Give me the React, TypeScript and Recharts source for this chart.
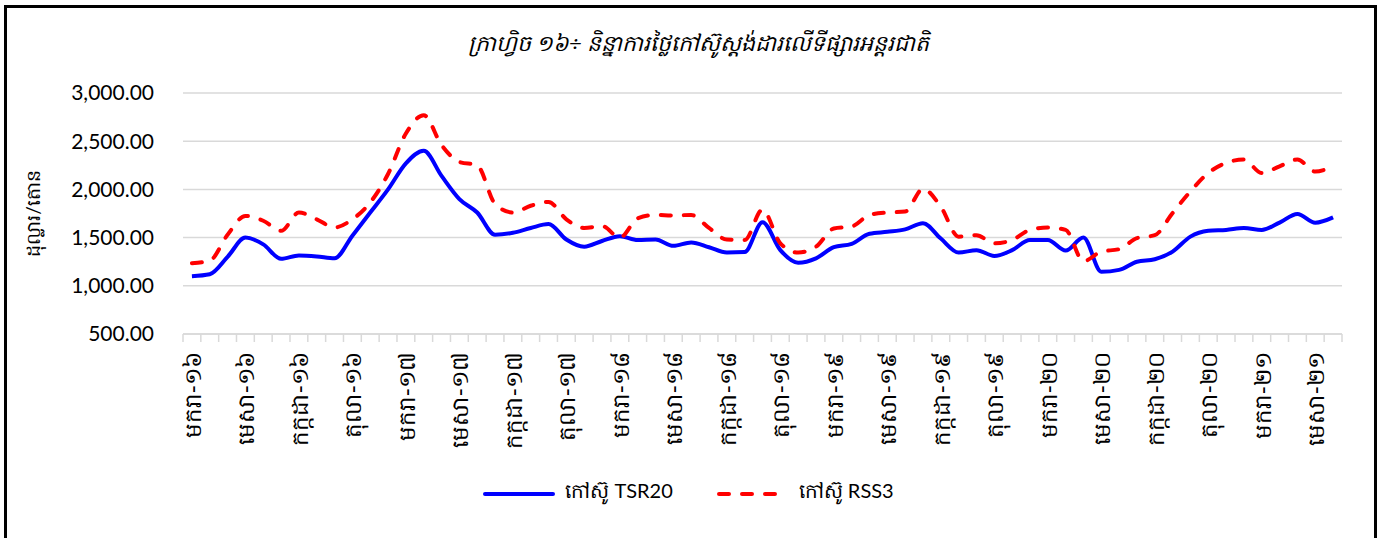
import { LineChart, Line, XAxis, YAxis, CartesianGrid, Legend, Label } from "recharts";

const MONTHS = ["មករា", "កុម្ភៈ", "មីនា", "មេសា", "ឧសភា", "មិថុនា", "កក្កដា", "សីហា", "កញ្ញា", "តុលា", "វិច្ឆិកា", "ធ្នូ"];
const YEARS = ["១៦", "១៧", "១៨", "១៩", "២០", "២១"];
const MONTH_COUNT = 65; // Jan-16 .. May-21

const TSR20 = [
  1100, 1120, 1300, 1500, 1430, 1280, 1315, 1305, 1285, 1520, 1760, 2000,
  2270, 2400, 2140, 1900, 1760, 1530, 1550, 1600, 1640, 1480, 1405, 1465,
  1515, 1475, 1480, 1415, 1450, 1400, 1345, 1350, 1660, 1370, 1240, 1285,
  1400, 1435, 1540, 1560, 1585, 1650, 1490, 1345, 1370, 1310, 1370, 1475,
  1475, 1365, 1500, 1145, 1165, 1250, 1275, 1355, 1510, 1570, 1580, 1600,
  1580, 1655, 1745, 1655, 1710,
];
const RSS3 = [
  1235, 1260, 1530, 1725, 1675, 1570, 1760, 1690, 1605, 1690, 1865, 2160,
  2580, 2770, 2460, 2285, 2250, 1850, 1760, 1830, 1870, 1690, 1600, 1620,
  1500, 1700, 1735, 1730, 1735, 1600, 1480, 1475, 1790, 1440, 1345, 1405,
  1595, 1615, 1735, 1760, 1770, 2005, 1820, 1510, 1525, 1440, 1475, 1580,
  1605, 1580, 1255, 1355, 1380, 1495, 1525, 1755, 1980, 2170, 2275, 2310,
  2170, 2240, 2310, 2185, 2240,
];
const Y_TICKS = [500, 1000, 1500, 2000, 2500, 3000];

const TITLE = "ក្រាហ្វិច ១៦÷ និន្នាការថ្លៃកៅស៊ូស្តង់ដារលើទីផ្សារអន្តរជាតិ";
const Y_LABEL = "ដុល្លារ/តោន";
const NAME_TSR = "កៅស៊ូ TSR20";
const NAME_RSS = "កៅស៊ូ RSS3";

const data = TSR20.slice(0, MONTH_COUNT).map((v, i) => ({
  month: MONTHS[i % 12] + "-" + YEARS[Math.floor(i / 12)],
  tsr: v,
  rss: RSS3[i],
}));

const W = 1377;
const H = 538;
const PLOT_L = 183;
const PLOT_R = 1342;
const PLOT_T = 93;
const PLOT_B = 334;
const BAND = (PLOT_R - PLOT_L) / data.length;
const FONT = "Lato, 'Noto Sans', 'DejaVu Sans', sans-serif";

const fmt = (v: number) =>
  v.toLocaleString("en-US", { minimumFractionDigits: 2, maximumFractionDigits: 2 });

function XTick(props: any) {
  const { x, y, payload, index } = props;
  const isLast = index === data.length - 1;
  return (
    <g>
      <line x1={x - BAND / 2} x2={x - BAND / 2} y1={y} y2={y + 8} stroke="#d9d9d9" strokeWidth={1.5} />
      {isLast && (
        <line x1={x + BAND / 2} x2={x + BAND / 2} y1={y} y2={y + 8} stroke="#d9d9d9" strokeWidth={1.5} />
      )}
      {index % 3 === 0 && (
        <text
          x={x}
          y={y + 18}
          transform={`rotate(-90, ${x}, ${y + 18})`}
          textAnchor="end"
          dominantBaseline="central"
          fontSize={23}
          fill="#000"
          fontFamily={FONT}
        >
          {payload.value}
        </text>
      )}
    </g>
  );
}

function LegendBox() {
  const items = [
    { name: NAME_TSR, color: "#0000ff", dash: undefined },
    { name: NAME_RSS, color: "#ff0000", dash: "10 13" },
  ];
  return (
    <div style={{ display: "flex", justifyContent: "center", gap: 44, fontFamily: FONT, fontSize: 20, color: "#000" }}>
      {items.map((it) => (
        <div key={it.name} style={{ display: "flex", alignItems: "center" }}>
          <svg width={72} height={10} style={{ marginRight: 10 }}>
            <line x1={2} x2={70} y1={6} y2={6} stroke={it.color} strokeWidth={4} strokeDasharray={it.dash} strokeLinecap="round" />
          </svg>
          <span>{it.name}</span>
        </div>
      ))}
    </div>
  );
}

export default function App() {
  return (
    <div style={{ position: "absolute", left: 0, top: 0, width: W, height: H, overflow: "hidden", background: "#fff" }}>
      <div
        style={{
          position: "absolute",
          left: 4,
          top: 5,
          width: 1373,
          height: 600,
          boxSizing: "border-box",
          border: "3px solid #000",
        }}
      />
      <div
        style={{
          position: "absolute",
          left: 10,
          top: 29,
          width: W,
          textAlign: "center",
          fontFamily: FONT,
          fontStyle: "italic",
          fontSize: 22,
          color: "#000",
        }}
      >
        {TITLE}
      </div>
      <div style={{ position: "absolute", left: 0, top: 0 }}>
        <LineChart
          width={W}
          height={H}
          data={data}
          margin={{ top: PLOT_T, right: W - PLOT_R, bottom: 54, left: 0 }}
        >
          <CartesianGrid vertical={false} stroke="#d9d9d9" strokeWidth={1.5} />
          <XAxis
            dataKey="month"
            interval={0}
            height={H - PLOT_B - 54}
            padding={{ left: BAND / 2, right: BAND / 2 }}
            tickLine={false}
            tickSize={0}
            tickMargin={0}
            axisLine={{ stroke: "#d9d9d9", strokeWidth: 1.5 }}
            tick={<XTick />}
          />
          <YAxis
            width={PLOT_L}
            domain={[500, 3000]}
            ticks={Y_TICKS}
            tickFormatter={fmt}
            axisLine={false}
            tickLine={false}
            tickSize={0}
            tickMargin={29}
            tick={{ fontSize: 21, fill: "#000", fontFamily: FONT }}
          >
            <Label
              content={() => (
                <text
                  x={32}
                  y={(PLOT_T + PLOT_B) / 2}
                  transform={`rotate(-90, 32, ${(PLOT_T + PLOT_B) / 2})`}
                  textAnchor="middle"
                  dominantBaseline="central"
                  fontSize={19}
                  fontFamily={FONT}
                  fill="#000"
                >
                  {Y_LABEL}
                </text>
              )}
            />
          </YAxis>
          <Legend
            verticalAlign="middle"
            content={<LegendBox />}
            wrapperStyle={{ position: "absolute", top: 478, left: 0, width: W }}
          />
          <Line
            type="monotone"
            dataKey="tsr"
            name={NAME_TSR}
            stroke="#0000ff"
            strokeWidth={4}
            dot={false}
            activeDot={false}
            isAnimationActive={false}
          />
          <Line
            type="monotone"
            dataKey="rss"
            name={NAME_RSS}
            stroke="#ff0000"
            strokeWidth={4}
            strokeDasharray="10 13"
            strokeLinecap="round"
            dot={false}
            activeDot={false}
            isAnimationActive={false}
          />
        </LineChart>
      </div>
    </div>
  );
}
